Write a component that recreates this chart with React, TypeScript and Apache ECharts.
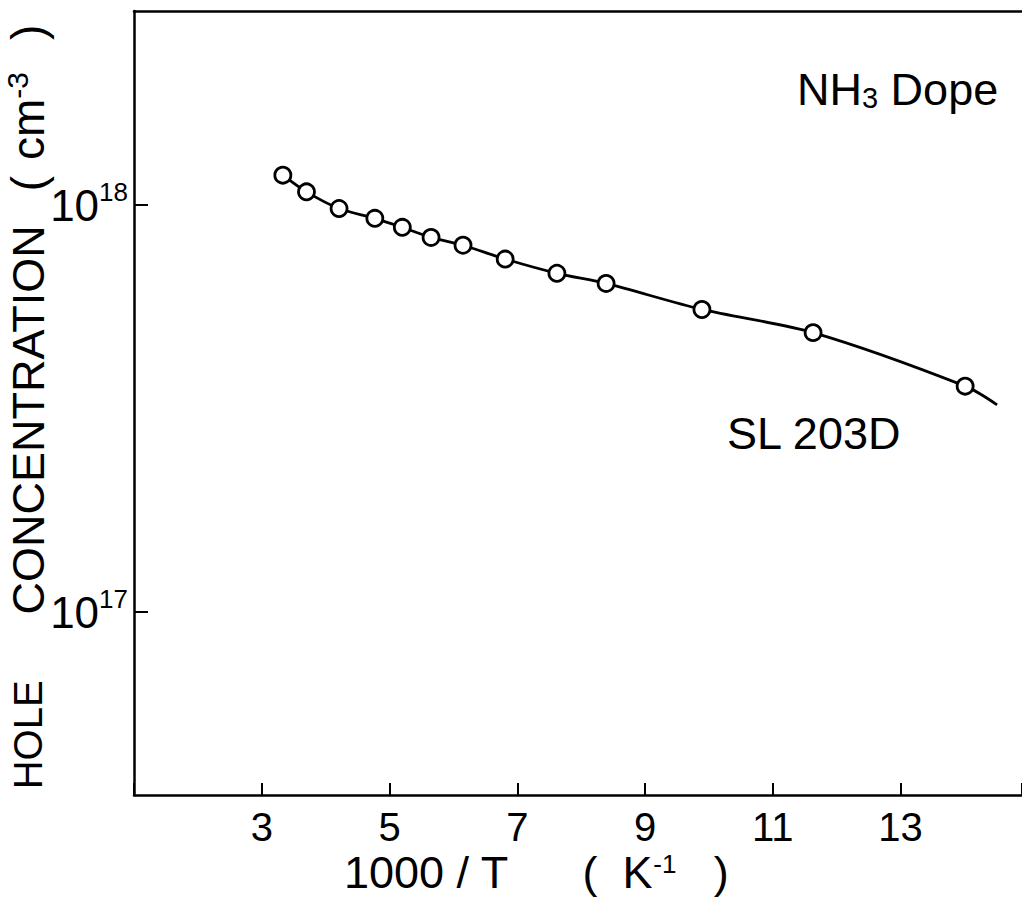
import React, { useEffect, useRef } from "react";
import * as echarts from "echarts";

// 1000/T (K^-1)
const inverseTemp = [3.33, 3.7, 4.21, 4.77, 5.2, 5.65, 6.15, 6.81, 7.62, 8.39, 9.89, 11.63, 14.01];
// hole concentration (cm^-3)
const holeConc = [1.185e18, 1.078e18, 9.81e17, 9.28e17, 8.82e17, 8.33e17, 7.97e17, 7.37e17, 6.8e17, 6.42e17, 5.54e17, 4.86e17, 3.59e17];
// end of the drawn curve beyond the last measured point
const curveTailX = [14.51];
const curveTailY = [3.23e17];

const xMin = 1;
const xMax = 14.9;
const xInterval = 2;
const xTickLabels = ["3", "5", "7", "9", "11", "13"];
const yMin = 3.55e16;
const yMax = 3e18;

const FONT = '"Liberation Sans", Arial, sans-serif';

export default function App() {
  const ref = useRef<HTMLDivElement>(null);
  useEffect(() => {
    if (!ref.current) return;
    const chart = echarts.init(ref.current, null, { renderer: "svg" });
    const points = inverseTemp.map((x, i) => [x, holeConc[i]]);
    const curve = points.concat(curveTailX.map((x, i) => [x, curveTailY[i]]));
    const base = { fontFamily: FONT, color: "#000" };
    chart.setOption({
      animation: false,
      backgroundColor: "#ffffff",
      textStyle: { fontFamily: FONT, color: "#000" },
      grid: { left: 134, top: 11, right: 0, bottom: 120, containLabel: false, outerBoundsMode: "none" },
      xAxis: [
        {
          type: "value",
          min: xMin,
          max: xMax,
          interval: xInterval,
          position: "bottom",
          axisLine: { show: true, onZero: false, lineStyle: { color: "#000", width: 2.5 } },
          axisTick: { show: true, inside: true, length: 12, lineStyle: { color: "#000", width: 2 } },
          splitLine: { show: false },
          axisLabel: {
            color: "#000",
            fontSize: 40,
            fontFamily: FONT,
            margin: 12,
            formatter: (v: number) => (xTickLabels.includes(String(v)) ? String(v) : ""),
          },
          name: "1000 / T      (  K{s|-1}   )",
          nameLocation: "middle",
          nameGap: 55,
          nameMoveOverlap: false,
          nameTextStyle: {
            color: "#000",
            fontSize: 45,
            fontFamily: FONT,
            padding: [0, 84, 0, 0],
            rich: { s: { ...base, fontSize: 26, padding: [0, 0, 18, 0] } },
          },
        },
        {
          type: "value",
          min: xMin,
          max: xMax,
          position: "top",
          axisLine: { show: true, onZero: false, lineStyle: { color: "#000", width: 2.5 } },
          axisTick: { show: false },
          axisLabel: { show: false },
          splitLine: { show: false },
        },
      ],
      yAxis: {
        type: "log",
        min: yMin,
        max: yMax,
        logBase: 10,
        axisLine: { show: true, onZero: false, lineStyle: { color: "#000", width: 2.5 } },
        axisTick: { show: true, inside: true, length: 14, lineStyle: { color: "#000", width: 2 } },
        splitLine: { show: false },
        minorTick: { show: false },
        axisLabel: {
          showMinLabel: false,
          showMaxLabel: false,
          margin: 6,
          formatter: (v: number) => {
            const e = Math.log10(v);
            if (Math.abs(e - Math.round(e)) > 1e-6) return "";
            return "{b|10}{s|" + Math.round(e) + "}";
          },
          rich: {
            b: { ...base, fontSize: 44 },
            s: { ...base, fontSize: 26, padding: [0, 0, 26, 0] },
          },
        },
        name: "{h|HOLE}{g1| }{c|CONCENTRATION}{g2| }{p|(}{g3| }{u|cm}{s|-3}{g4| }{p|)}",
        nameLocation: "middle",
        nameRotate: 90,
        nameGap: 80,
        nameMoveOverlap: false,
        nameTextStyle: {
          color: "#000",
          fontSize: 44,
          fontFamily: FONT,
          padding: [0, 8, 0, 0],
          rich: {
            h: { ...base, fontSize: 40 },
            g1: { ...base, fontSize: 44, width: 66 },
            c: { ...base, fontSize: 45 },
            g2: { ...base, fontSize: 44, width: 34 },
            p: { ...base, fontSize: 46 },
            g3: { ...base, fontSize: 44, width: 16 },
            u: { ...base, fontSize: 46 },
            s: { ...base, fontSize: 30, padding: [0, 0, 22, 0] },
            g4: { ...base, fontSize: 44, width: 32 },
          },
        },
      },
      graphic: [
        {
          type: "text",
          left: 797,
          top: 67,
          style: {
            text: "{a|NH}{s|3}{a| Dope}",
            rich: {
              a: { fontSize: 45, fontFamily: FONT, fill: "#000", verticalAlign: "bottom" },
              s: { fontSize: 29, fontFamily: FONT, fill: "#000", verticalAlign: "bottom" },
            },
          },
        },
        {
          type: "text",
          left: 727,
          top: 411,
          style: { text: "SL 203D", fontSize: 45, fontFamily: FONT, fill: "#000" },
        },
      ],
      series: [
        {
          type: "line",
          data: curve,
          smooth: 0.3,
          showSymbol: false,
          lineStyle: { color: "#000", width: 2.8 },
          z: 2,
        },
        {
          type: "scatter",
          data: points,
          symbol: "circle",
          symbolSize: 16,
          itemStyle: { color: "#fff", borderColor: "#000", borderWidth: 2.8, opacity: 1 },
          z: 3,
        },
      ],
    });
    return () => chart.dispose();
  }, []);
  return (
    <div
      ref={ref}
      style={{ position: "fixed", left: 0, top: 0, width: 1022, height: 915, background: "#fff" }}
    />
  );
}
